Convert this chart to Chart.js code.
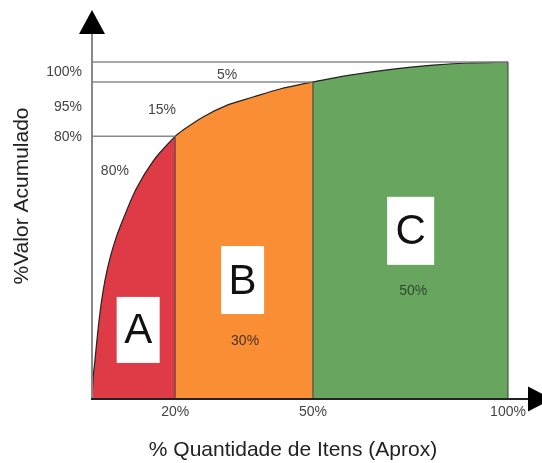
<!DOCTYPE html>
<html>
<head>
<meta charset="utf-8">
<script src="https://cdn.jsdelivr.net/npm/chart.js@4.4.1/dist/chart.umd.min.js"></script>
<style>
  html, body { margin: 0; padding: 0; background: #fff; }
  #wrap { width: 542px; height: 463px; }
</style>
</head>
<body>
<div id="wrap"><canvas id="abc"></canvas></div>
<script>
/* ABC curve (x = % of items, y = % of value) */
const curveX = [0, 0.24, 0.72, 1.44, 2.16, 3.13, 4.33, 5.77, 7.69, 10.6, 14.7, 20.0, 21.9, 26.7, 32.5, 38.7, 45.2, 53.1, 62.0, 72.4, 82.0, 90.1, 100]
const curveY = [0, 5.6, 11.6, 20.5, 27.9, 35.3, 41.8, 47.8, 54.0, 62.3, 70.6, 78.0, 79.8, 83.7, 87.2, 89.6, 92.0, 94.1, 96.1, 97.9, 99.1, 99.7, 100]

const zoneEdges = [0, 20, 53.1, 100]
const zoneNames = ['A', 'B', 'C']
const zoneLetterX = [11.1, 36.2, 76.6]
const zoneLetterY = [20.5, 35.3, 49.9]

/* share of value (upper labels) and share of items (inside zones) */
const valueShareText = ['80%', '15%', '5%']
const valueShareX = [5.5, 16.8, 32.5]
const valueShareY = [67.7, 85.8, 96.1]
const itemShareText = ['30%', '50%']
const itemShareX = [36.8, 77.2]
const itemShareY = [17.2, 32.0]

const refLevels = [78.0, 94.1, 100]

const xTickPos = [20, 53.1, 100]
const xTickLabels = ['20%', '50%', '100%']
const yTickPos = [97.0, 86.6, 77.7]
const yTickLabels = ['100%', '95%', '80%']

const xTitle = '% Quantidade de Itens (Aprox)'
const yTitle = '%Valor Acumulado'

/* styles */
const zoneColors = ['#DF3B46', '#FA8E35', '#68A55F']
const itemShareColors = ['#4a3318', '#2e4a2b']
const boxW = [43, 43, 47]
const boxH = [66, 68, 68]
const FONT = "'Liberation Sans', Arial, sans-serif"

Chart.defaults.font.family = FONT

function curveAt(x) {
    const i = curveX.indexOf(x)
    return curveY[i]
}

const datasets = []

/* reference lines from the y axis to the curve */
refLevels.forEach((lvl, i) => {
    datasets.push({
        data: [{ x: 0, y: lvl }, { x: zoneEdges[i + 1], y: lvl }],
        borderColor: '#8a8a8a',
        borderWidth: 1.5,
        pointRadius: 0,
        fill: false,
        clip: 6,
        order: 1
    })
})

/* filled zones under the curve */
zoneNames.forEach((name, i) => {
    const pts = []
    curveX.forEach((x, k) => {
        if (x >= zoneEdges[i] && x <= zoneEdges[i + 1]) pts.push({ x: x, y: curveY[k] })
    })
    datasets.push({
        label: name,
        data: pts,
        backgroundColor: zoneColors[i],
        borderColor: '#222',
        borderWidth: 1.2,
        pointRadius: 0,
        cubicInterpolationMode: 'monotone',
        fill: 'origin',
        clip: 6,
        order: 2
    })
})

/* zone separators */
zoneEdges.slice(1).forEach(e => {
    datasets.push({
        data: [{ x: e, y: 0 }, { x: e, y: curveAt(e) }],
        borderColor: '#3a3a3a',
        borderWidth: 1,
        pointRadius: 0,
        fill: false,
        clip: 6,
        order: 0
    })
})

const decor = {
    id: 'decor',
    afterDatasetsDraw(chart) {
        const { ctx } = chart
        const sx = chart.scales.x, sy = chart.scales.y
        ctx.save()
        ctx.textAlign = 'center'
        ctx.textBaseline = 'middle'

        /* letter boxes */
        zoneNames.forEach((name, i) => {
            const cx = sx.getPixelForValue(zoneLetterX[i])
            const cy = sy.getPixelForValue(zoneLetterY[i])
            ctx.fillStyle = '#fff'
            ctx.fillRect(cx - boxW[i] / 2, cy - boxH[i] / 2, boxW[i], boxH[i])
            ctx.fillStyle = '#111'
            ctx.font = '42px ' + FONT
            ctx.fillText(name, cx, cy + 2)
        })

        ctx.font = '14px ' + FONT
        valueShareText.forEach((t, i) => {
            ctx.fillStyle = '#444'
            ctx.fillText(t, sx.getPixelForValue(valueShareX[i]), sy.getPixelForValue(valueShareY[i]))
        })
        itemShareText.forEach((t, i) => {
            ctx.fillStyle = itemShareColors[i]
            ctx.fillText(t, sx.getPixelForValue(itemShareX[i]), sy.getPixelForValue(itemShareY[i]))
        })
        ctx.restore()
    },
    afterDraw(chart) {
        const { ctx, chartArea } = chart
        const l = chartArea.left, b = chartArea.bottom
        ctx.save()

        /* y axis + arrow */
        ctx.strokeStyle = '#888'
        ctx.lineWidth = 2
        ctx.beginPath()
        ctx.moveTo(l, b)
        ctx.lineTo(l, chartArea.top - 28)
        ctx.stroke()
        ctx.fillStyle = '#000'
        ctx.beginPath()
        ctx.moveTo(l, chartArea.top - 52)
        ctx.lineTo(l - 13, chartArea.top - 28)
        ctx.lineTo(l + 13, chartArea.top - 28)
        ctx.closePath()
        ctx.fill()

        /* x axis + arrow */
        ctx.strokeStyle = '#222'
        ctx.beginPath()
        ctx.moveTo(l - 1, b)
        ctx.lineTo(chartArea.right + 22, b)
        ctx.stroke()
        ctx.beginPath()
        ctx.moveTo(chartArea.right + 20, b - 12.5)
        ctx.lineTo(chartArea.right + 44, b)
        ctx.lineTo(chartArea.right + 20, b + 12.5)
        ctx.closePath()
        ctx.fill()

        /* axis titles */
        ctx.fillStyle = '#222'
        ctx.font = '21px ' + FONT
        ctx.textAlign = 'center'
        ctx.textBaseline = 'middle'
        ctx.fillText(xTitle, l + 201, b + 51)
        ctx.translate(22, chartArea.top + 134)
        ctx.rotate(-Math.PI / 2)
        ctx.fillText(yTitle, 0, 0)
        ctx.restore()
    }
}

new Chart(document.getElementById('abc'), {
    type: 'line',
    data: { datasets: datasets },
    options: {
        responsive: true,
        maintainAspectRatio: false,
        animation: false,
        layout: { padding: { top: 62, right: 34, left: 0, bottom: 0 } },
        plugins: {
            legend: { display: false },
            tooltip: { enabled: false }
        },
        scales: {
            x: {
                type: 'linear',
                min: 0,
                max: 100,
                grid: { display: false, drawTicks: false },
                border: { display: false },
                afterBuildTicks: axis => { axis.ticks = xTickPos.map(v => ({ value: v })) },
                afterFit: scale => { scale.height = 64 },
                ticks: {
                    autoSkip: false,
                    maxRotation: 0,
                    padding: 5,
                    color: '#444',
                    font: { size: 14 },
                    callback: (v, i) => xTickLabels[i]
                }
            },
            y: {
                min: 0,
                max: 100,
                grid: { display: false, drawTicks: false },
                border: { display: false },
                afterBuildTicks: axis => { axis.ticks = yTickPos.map(v => ({ value: v })) },
                afterFit: scale => { scale.width = 92 },
                ticks: {
                    autoSkip: false,
                    padding: 10,
                    color: '#444',
                    font: { size: 14 },
                    callback: (v, i) => yTickLabels[i]
                }
            }
        }
    },
    plugins: [decor]
})
</script>
</body>
</html>
